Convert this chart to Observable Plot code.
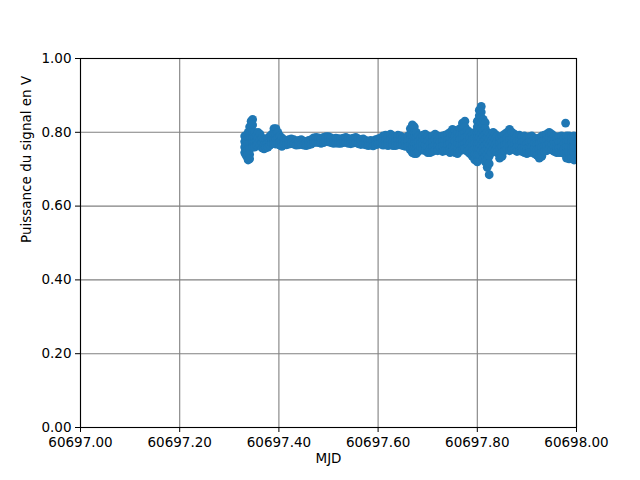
<!DOCTYPE html>
<html>
<head>
<meta charset="utf-8">
<script src="https://cdn.jsdelivr.net/npm/d3@7"></script>
<script src="https://cdn.jsdelivr.net/npm/@observablehq/plot@0.6"></script>
<style>
  html, body { margin: 0; padding: 0; background: white; }
</style>
</head>
<body>
<div id="chart"></div>
<script>
const xTicks = [60697.0, 60697.2, 60697.4, 60697.6, 60697.8, 60698.0];
const yTicks = [0, 0.2, 0.4, 0.6, 0.8, 1.0];
const xLabel = "MJD";
const yLabel = "Puissance du signal en V";

// Observation times (MJD), one per column of readings below
const mjd = [
  60697.331, 60697.333, 60697.335, 60697.338, 60697.341, 60697.344, 60697.347, 60697.351, 60697.355, 60697.358,
  60697.362, 60697.366, 60697.370, 60697.374, 60697.378, 60697.382, 60697.386, 60697.390, 60697.394, 60697.398,
  60697.402, 60697.406, 60697.410, 60697.415, 60697.420, 60697.425, 60697.430, 60697.435, 60697.440, 60697.445,
  60697.450, 60697.455, 60697.460, 60697.465, 60697.470, 60697.475, 60697.480, 60697.485, 60697.490, 60697.495,
  60697.500, 60697.505, 60697.510, 60697.515, 60697.520, 60697.525, 60697.530, 60697.535, 60697.540, 60697.545,
  60697.550, 60697.555, 60697.560, 60697.565, 60697.570, 60697.575, 60697.580, 60697.585, 60697.590, 60697.595,
  60697.600, 60697.605, 60697.610, 60697.615, 60697.620, 60697.625, 60697.630, 60697.635, 60697.640, 60697.645,
  60697.650, 60697.655, 60697.660, 60697.665, 60697.669, 60697.673, 60697.677, 60697.681, 60697.686, 60697.690,
  60697.695, 60697.700, 60697.705, 60697.710, 60697.715, 60697.720, 60697.725, 60697.730, 60697.735, 60697.740,
  60697.745, 60697.750, 60697.755, 60697.760, 60697.765, 60697.770, 60697.775, 60697.780, 60697.785, 60697.790,
  60697.795, 60697.800, 60697.804, 60697.808, 60697.812, 60697.816, 60697.820, 60697.824, 60697.828, 60697.832,
  60697.836, 60697.840, 60697.845, 60697.850, 60697.855, 60697.860, 60697.865, 60697.870, 60697.875, 60697.880,
  60697.885, 60697.890, 60697.895, 60697.900, 60697.905, 60697.910, 60697.915, 60697.920, 60697.925, 60697.930,
  60697.935, 60697.940, 60697.945, 60697.950, 60697.955, 60697.960, 60697.965, 60697.970, 60697.975, 60697.978,
  60697.980, 60697.985, 60697.990, 60697.995, 60698.000, 60698.004
];

// Signal readings (V) at each time above
const signal = [
  [0.79,0.775,0.76,0.745],[0.785,0.77,0.755,0.74],[0.78,0.765,0.75,0.735],[0.80,0.785,0.77,0.755,0.74,0.725],[0.815,0.80,0.785,0.77,0.755,0.74,0.728],
  [0.83,0.815,0.80,0.785,0.77],[0.835,0.82,0.80,0.785,0.77,0.76],[0.80,0.785,0.77,0.76],[0.79,0.775,0.765],[0.80,0.785,0.77],
  [0.795,0.78,0.765],[0.785,0.77,0.758],[0.78,0.765,0.755],[0.78,0.765,0.758],[0.785,0.77,0.76],
  [0.79,0.775,0.765],[0.795,0.78,0.77],[0.81,0.795,0.78,0.77],[0.81,0.795,0.78,0.768],[0.80,0.785,0.77],
  [0.79,0.775,0.765],[0.785,0.772,0.762],[0.78,0.768],[0.778,0.766],[0.78,0.768],
  [0.782,0.77],[0.78,0.768],[0.776,0.765],[0.778,0.766],[0.78,0.768],
  [0.776,0.765],[0.775,0.764],[0.778,0.766],[0.78,0.768],[0.785,0.772],
  [0.786,0.773],[0.785,0.772],[0.782,0.77],[0.786,0.772],[0.788,0.775],
  [0.788,0.774],[0.785,0.772],[0.782,0.77],[0.784,0.771],[0.783,0.77],
  [0.782,0.77],[0.784,0.772],[0.786,0.773],[0.783,0.77],[0.782,0.769],
  [0.784,0.771],[0.786,0.772],[0.782,0.769],[0.78,0.767],[0.782,0.768],
  [0.778,0.766],[0.776,0.764],[0.778,0.765],[0.776,0.763],[0.78,0.766],
  [0.782,0.768],[0.785,0.772],[0.79,0.776,0.765],[0.792,0.778,0.766],[0.788,0.775,0.764],
  [0.795,0.78,0.766],[0.79,0.776,0.764],[0.788,0.775,0.764],[0.792,0.778,0.766],[0.79,0.776,0.766],
  [0.786,0.774,0.764],[0.784,0.772,0.762],[0.79,0.776,0.762],[0.81,0.795,0.78,0.765,0.752],[0.82,0.805,0.79,0.775,0.76,0.745],
  [0.815,0.80,0.785,0.77,0.755,0.742],[0.80,0.785,0.77,0.755,0.742],[0.79,0.775,0.76,0.748],[0.785,0.772,0.76],[0.792,0.778,0.765,0.752],
  [0.795,0.78,0.765,0.75],[0.79,0.775,0.76,0.745],[0.785,0.77,0.755,0.745],[0.79,0.775,0.76,0.748],[0.795,0.78,0.765,0.752],
  [0.79,0.776,0.762,0.75],[0.788,0.774,0.76],[0.79,0.776,0.762,0.748],[0.792,0.778,0.764,0.75],[0.795,0.78,0.765,0.75],
  [0.80,0.785,0.77,0.755,0.745],[0.808,0.792,0.777,0.762,0.748],[0.805,0.79,0.775,0.76,0.745],[0.80,0.785,0.77,0.755,0.742],[0.81,0.795,0.78,0.765,0.75],
  [0.825,0.81,0.795,0.78,0.765,0.752],[0.83,0.815,0.80,0.785,0.77,0.755],[0.805,0.79,0.775,0.76,0.748],[0.80,0.785,0.77,0.755,0.742],[0.795,0.78,0.765,0.75,0.735],
  [0.80,0.785,0.77,0.755,0.74,0.725],[0.83,0.815,0.80,0.785,0.77,0.755,0.74,0.72],[0.86,0.845,0.83,0.815,0.80,0.785,0.77,0.755,0.74],[0.87,0.855,0.84,0.825,0.81,0.795,0.78,0.765,0.75],[0.835,0.82,0.805,0.79,0.775,0.76,0.745,0.73],
  [0.826,0.81,0.795,0.78,0.765,0.75,0.735,0.72],[0.80,0.785,0.77,0.755,0.74,0.725,0.705],[0.795,0.78,0.765,0.75,0.735,0.715,0.685],[0.79,0.775,0.76,0.745],[0.80,0.785,0.77,0.755],
  [0.795,0.78,0.765,0.75],[0.79,0.775,0.76,0.745],[0.785,0.77,0.755,0.74,0.73],[0.79,0.775,0.76,0.745,0.735],[0.795,0.78,0.765,0.75],
  [0.80,0.785,0.77,0.755],[0.808,0.793,0.778,0.763,0.75],[0.80,0.785,0.77,0.755],[0.795,0.78,0.765,0.752],[0.79,0.775,0.76,0.748],
  [0.792,0.777,0.762,0.75],[0.788,0.773,0.758,0.748],[0.79,0.775,0.76,0.745],[0.785,0.77,0.755,0.742],[0.788,0.773,0.758,0.745],
  [0.79,0.775,0.76,0.748],[0.785,0.77,0.755,0.742],[0.782,0.767,0.752,0.738],[0.785,0.77,0.755,0.74,0.73],[0.79,0.775,0.76,0.745,0.735],
  [0.792,0.777,0.762,0.748],[0.795,0.78,0.765,0.75],[0.80,0.785,0.77,0.755],[0.795,0.78,0.765,0.752],[0.79,0.775,0.76,0.748],
  [0.785,0.77,0.755,0.745],[0.788,0.773,0.758,0.745],[0.79,0.775,0.76,0.745],[0.785,0.77,0.755,0.742],[0.825],
  [0.79,0.775,0.76,0.745,0.73],[0.79,0.775,0.76,0.745,0.728],[0.788,0.773,0.758,0.743,0.73],[0.79,0.775,0.76,0.745,0.725],[0.785,0.77,0.755,0.74],
  [0.785,0.77,0.755,0.74]
];

const data = mjd.flatMap((t, i) => (signal[i] || []).map(v => ({t, v})));

const fmt = d => d.toFixed(2);

const chart = Plot.plot({
  width: 640,
  height: 480,
  marginLeft: 80,
  marginRight: 64,
  marginTop: 58,
  marginBottom: 53,
  x: {domain: [60697, 60698]},
  y: {domain: [0, 1]},
  style: {fontFamily: "DejaVu Sans", fontSize: "13.5px", background: "white", color: "black"},
  marks: [
    Plot.gridX(xTicks, {stroke: "#808080", strokeOpacity: 1, strokeWidth: 1.1}),
    Plot.gridY(yTicks, {stroke: "#808080", strokeOpacity: 1, strokeWidth: 1.1}),
    Plot.dot(data, {x: "t", y: "v", r: 4.4, fill: "#1f77b4", stroke: "none", clip: true}),
    Plot.axisX(xTicks, {tickFormat: fmt, tickSize: 5, tickPadding: 5, label: null, fontSize: 13.5}),
    Plot.axisY(yTicks, {tickFormat: fmt, tickSize: 5, tickPadding: 4, label: null, fontSize: 13.5}),
    Plot.frame({stroke: "black", strokeWidth: 1.1}),
    Plot.text([xLabel], {text: d => d, frameAnchor: "bottom", dy: 35, fontSize: 13.5}),
    Plot.text([yLabel], {text: d => d, frameAnchor: "left", rotate: -90, dx: -54, fontSize: 13.5})
  ]
});
document.getElementById("chart").appendChild(chart);
</script>
</body>
</html>
